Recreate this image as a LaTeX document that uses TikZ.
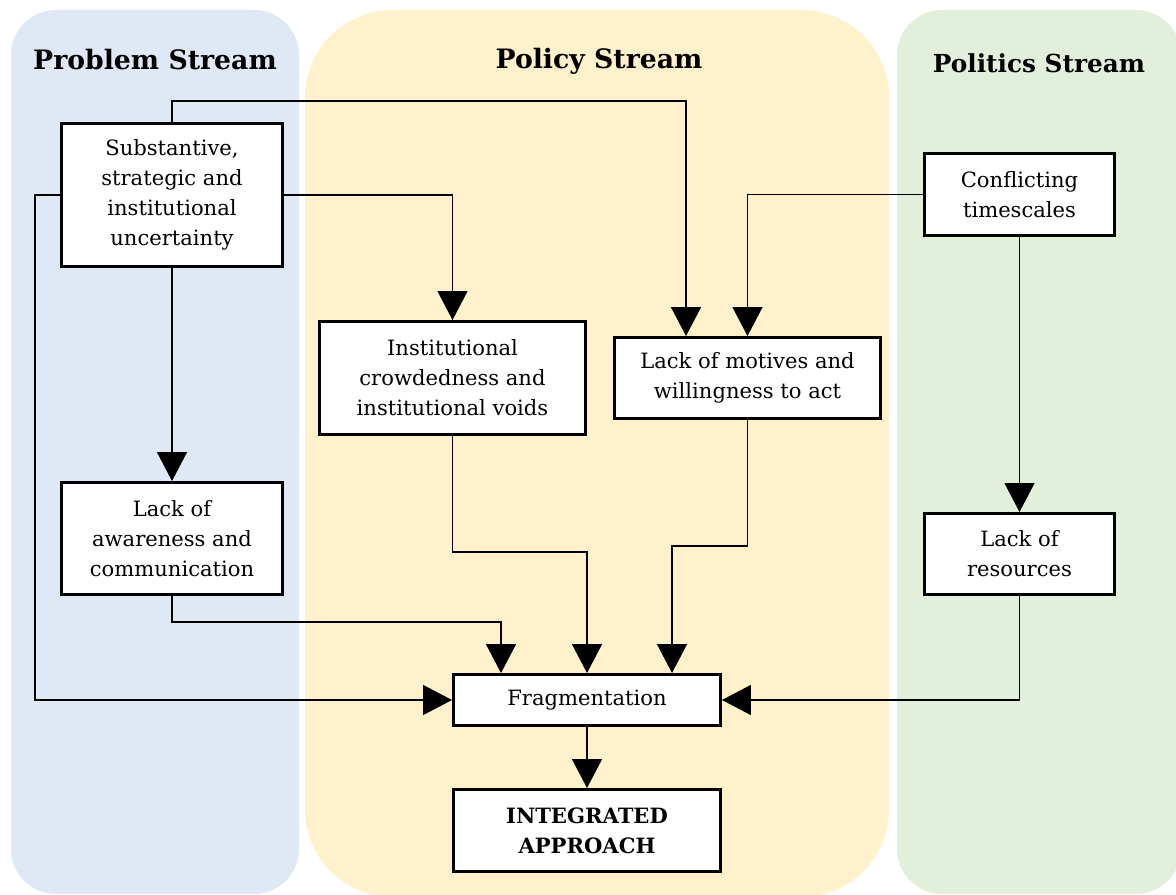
\documentclass[tikz,border=0pt]{standalone}
\usepackage{fontspec}
\setmainfont{DejaVu Serif}
\usetikzlibrary{arrows.meta}
\definecolor{probbg}{HTML}{DEE9F5}
\definecolor{polibg}{HTML}{FFF1CC}
\definecolor{polsbg}{HTML}{E2EFDA}
\begin{document}
\begin{tikzpicture}[x=0.02cm,y=-0.02cm,
  box/.style={draw=black, line width=1.7pt, fill=white, inner sep=0pt,
    align=center, font=\fontsize{12}{17}\selectfont},
  title/.style={font=\bfseries\fontsize{15.2}{19}\selectfont, inner sep=0pt},
  arr/.style={line width=0.9pt, -{Triangle[width=0.6cm,length=0.58cm]}}]
\useasboundingbox (0,0) rectangle (1176,895);
\begin{scope}
\clip (0,0) rectangle (1176,895);
% stream panels
\fill[probbg, rounded corners=0.9cm] (11,10) rectangle (299,894);
\fill[polibg, rounded corners=1.75cm] (305,10) rectangle (889,897);
\fill[polsbg, rounded corners=0.9cm] (897,10) rectangle (1181,894);
\end{scope}
% stream titles
\node[title] (tprob) at (155,60) {Problem Stream};
\node[title] (tpoli) at (599,61) {Policy Stream};
\node[title, font=\bfseries\fontsize{14.1}{18}\selectfont] (tpols) at (1039,63) {Politics Stream};
% boxes
\node[box, minimum width=221*0.02cm, minimum height=143*0.02cm] (sub) at (172,195)
  {Substantive,\\strategic and\\institutional\\uncertainty};
\node[box, minimum width=221*0.02cm, minimum height=112*0.02cm] (aware) at (172,538.5)
  {Lack of\\awareness and\\communication};
\node[box, minimum width=266*0.02cm, minimum height=113*0.02cm] (inst) at (452.5,378)
  {Institutional\\crowdedness and\\institutional voids};
\node[box, minimum width=266*0.02cm, minimum height=81*0.02cm] (motiv) at (747.5,378)
  {Lack of motives and\\willingness to act};
\node[box, minimum width=190*0.02cm, minimum height=82*0.02cm] (confl) at (1019.5,194.5)
  {Conflicting\\timescales};
\node[box, minimum width=190*0.02cm, minimum height=81*0.02cm] (res) at (1019.5,554)
  {Lack of\\resources};
\node[box, minimum width=267*0.02cm, minimum height=51*0.02cm] (frag) at (587,700)
  {Fragmentation};
\node[box, minimum width=267*0.02cm, minimum height=82*0.02cm, font=\bfseries\fontsize{12}{17}\selectfont] (integ) at (587,830.5)
  {INTEGRATED\\APPROACH};
% routing points
\coordinate (ctop) at (686,101);
\coordinate (cleft) at (35,700);
\coordinate (caw) at (501,622);
\coordinate (cin) at (587,552);
\coordinate (cmo) at (672,546);
% connectors
\draw[arr] (sub.north) |- (ctop) -- (ctop |- motiv.north);
\draw[arr] (sub.east) -| (inst.north);
\draw[arr] (sub.west) -| (cleft) -- (frag.west);
\draw[arr] (sub.south) -- (aware.north);
\draw[arr] (confl.west) -| (motiv.north);
\draw[arr] (confl.south) -- (res.north);
\draw[arr] (aware.south) |- (caw) -- (caw |- frag.north);
\draw[arr] (inst.south) |- (cin) -- (frag.north);
\draw[arr] (motiv.south) |- (cmo) -- (cmo |- frag.north);
\draw[arr] (res.south) |- (frag.east);
\draw[arr] (frag.south) -- (integ.north);
\end{tikzpicture}
\end{document}
